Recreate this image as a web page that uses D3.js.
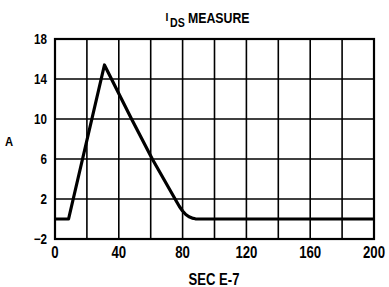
<!DOCTYPE html>
<html>
<head>
<title>IDS measure | D3</title>
<script src="https://d3js.org/d3.v7.min.js" charset="utf-8"></script>
<style>
body {
 margin: 0;
 background: white;
}
svg text {
 font-family: "Liberation Sans", Arial, sans-serif;
 font-weight: bold;
 fill: #000;
}
</style>
</head>
<body>
<script>
// waveform, time in E-7 sec, current in A
var timeVals = [0, 8.5, 31, 48, 61, 76, 78, 80, 82, 84, 86, 88, 91, 200];
var ampVals  = [0, 0, 15.4, 10, 6, 1.8, 1.25, 0.8, 0.45, 0.22, 0.09, 0.02, 0, 0];
var xTicks = [0, 40, 80, 120, 160, 200];
var yTicks = [-2, 2, 6, 10, 14, 18];
var xGrid = d3.range(0, 201, 20);

var width = 389, height = 287;
var margin = {top: 39, right: 15, bottom: 48, left: 55};

var svg = d3.select("body").append("svg")
 .attr("width", width)
 .attr("height", height);

var x = d3.scaleLinear().domain([0, 200]).range([margin.left, width - margin.right]);
var y = d3.scaleLinear().domain([-2, 18]).range([height - margin.bottom, margin.top]);

// condensed look: squeeze text horizontally
function label(px, py, txt, size, sx, anchor) {
 return svg.append("text")
  .attr("transform", "translate(" + px + "," + py + ") scale(" + sx + ",1)")
  .attr("text-anchor", anchor)
  .style("font-size", size + "px")
  .text(txt);
}

// grid
var g = svg.append("g");
g.selectAll("line.vx")
 .data(xGrid)
 .enter()
 .append("line")
 .attr("x1", d => x(d)).attr("x2", d => x(d))
 .attr("y1", y(-2)).attr("y2", y(18))
 .attr("stroke", "#000")
 .attr("stroke-width", 1.6);
g.selectAll("line.hy")
 .data(yTicks)
 .enter()
 .append("line")
 .attr("x1", x(0)).attr("x2", x(200))
 .attr("y1", d => y(d)).attr("y2", d => y(d))
 .attr("stroke", "#000")
 .attr("stroke-width", 1.6);

// frame
svg.append("rect")
 .attr("x", x(0)).attr("y", y(18))
 .attr("width", x(200) - x(0))
 .attr("height", y(-2) - y(18))
 .attr("fill", "none")
 .attr("stroke", "#000")
 .attr("stroke-width", 2.2);

// tick labels
xTicks.forEach(function(d) {
 label(x(d), 258, d, 16.5, 0.8, "middle");
});
yTicks.forEach(function(d) {
 label(47, y(d) + 5, d == -2 ? "\u22122" : d, 14, 0.83, "end");
});

// axis titles
label(9, 146, "A", 12.5, 0.9, "middle");
label(214, 285, "SEC E-7", 17, 0.77, "middle");

// title
label(165.5, 21, "I", 11.5, 0.9, "start");
label(170, 27, "DS", 12.5, 0.85, "start");
label(188, 23, "MEASURE", 14, 0.88, "start");

// waveform
var pts = timeVals.map((t, i) => [t, ampVals[i]]);
var line = d3.line()
 .x(d => x(d[0]))
 .y(d => y(d[1]));
svg.append("path")
 .datum(pts)
 .attr("fill", "none")
 .attr("stroke", "#000")
 .attr("stroke-width", 3.2)
 .attr("stroke-linejoin", "round")
 .attr("d", line);
</script>
</body>
</html>
